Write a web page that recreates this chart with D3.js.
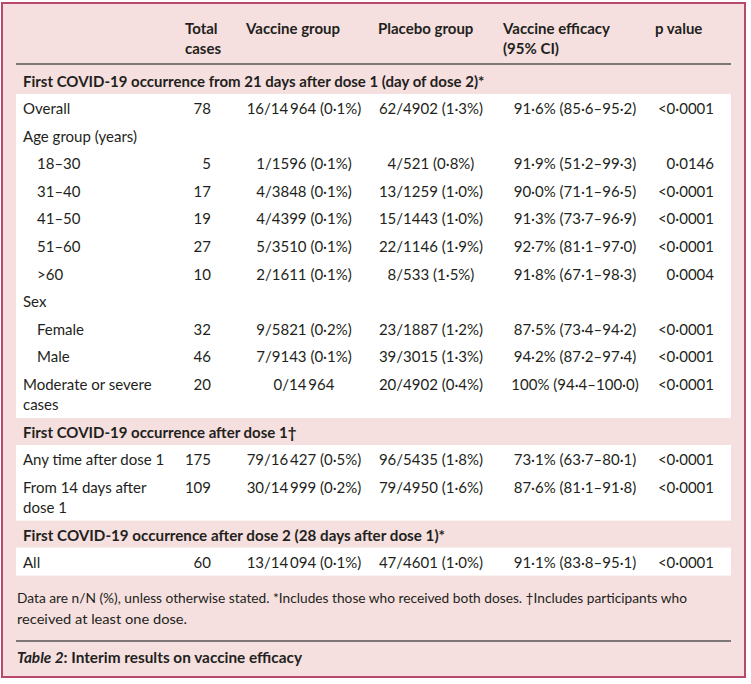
<!DOCTYPE html>
<html>
<head>
<meta charset="utf-8">
<script src="https://cdn.jsdelivr.net/npm/d3@7"></script>
<style>
  body { margin: 0; background: #fff; }
  text { font-family: Lato, "Open Sans", sans-serif; fill: #231f20; }
</style>
</head>
<body>
<svg></svg>
<script>
const width = 751;
const height = 684;

// table content
const columnHeads = [["", ""], ["Total", "cases"], ["Vaccine group", ""], ["Placebo group", ""], ["Vaccine efficacy", "(95% CI)"], ["p value", ""]];
const sectionTitles = [
  "First COVID-19 occurrence from 21 days after dose 1 (day of dose 2)*",
  "First COVID-19 occurrence after dose 1\u2020",
  "First COVID-19 occurrence after dose 2 (28 days after dose 1)*"
];
const rowLabels = ["Overall", "Age group (years)", "18\u201330", "31\u201340", "41\u201350", "51\u201360", ">60", "Sex", "Female", "Male",
  "Moderate or severe\ncases", "Any time after dose 1", "From 14 days after\ndose 1", "All"];
const rowSection = [0, 0, 0, 0, 0, 0, 0, 0, 0, 0, 0, 1, 1, 2];
const rowIndent = [0, 0, 1, 1, 1, 1, 1, 0, 1, 1, 0, 0, 0, 0];
const totalCases = [78, null, 5, 17, 19, 27, 10, null, 32, 46, 20, 175, 109, 60];
const vaccineGroup = ["16/14\u2009964 (0\u00b71%)", "", "1/1596 (0\u00b71%)", "4/3848 (0\u00b71%)", "4/4399 (0\u00b71%)", "5/3510 (0\u00b71%)", "2/1611 (0\u00b71%)", "",
  "9/5821 (0\u00b72%)", "7/9143 (0\u00b71%)", "0/14\u2009964", "79/16\u2009427 (0\u00b75%)", "30/14\u2009999 (0\u00b72%)", "13/14\u2009094 (0\u00b71%)"];
const placeboGroup = ["62/4902 (1\u00b73%)", "", "4/521 (0\u00b78%)", "13/1259 (1\u00b70%)", "15/1443 (1\u00b70%)", "22/1146 (1\u00b79%)", "8/533 (1\u00b75%)", "",
  "23/1887 (1\u00b72%)", "39/3015 (1\u00b73%)", "20/4902 (0\u00b74%)", "96/5435 (1\u00b78%)", "79/4950 (1\u00b76%)", "47/4601 (1\u00b70%)"];
const efficacy = ["91\u00b76% (85\u00b76\u201395\u00b72)", "", "91\u00b79% (51\u00b72\u201399\u00b73)", "90\u00b70% (71\u00b71\u201396\u00b75)", "91\u00b73% (73\u00b77\u201396\u00b79)",
  "92\u00b77% (81\u00b71\u201397\u00b70)", "91\u00b78% (67\u00b71\u201398\u00b73)", "", "87\u00b75% (73\u00b74\u201394\u00b72)", "94\u00b72% (87\u00b72\u201397\u00b74)",
  "100% (94\u00b74\u2013100\u00b70)", "73\u00b71% (63\u00b77\u201380\u00b71)", "87\u00b76% (81\u00b71\u201391\u00b78)", "91\u00b71% (83\u00b78\u201395\u00b71)"];
const pValues = ["<0\u00b70001", "", "0\u00b70146", "<0\u00b70001", "<0\u00b70001", "<0\u00b70001", "0\u00b70004", "", "<0\u00b70001", "<0\u00b70001",
  "<0\u00b70001", "<0\u00b70001", "<0\u00b70001", "<0\u00b70001"];
const footnotes = ["Data are n/N (%), unless otherwise stated. *Includes those who received both doses. \u2020Includes participants who",
  "received at least one dose."];
const captionLead = "Table 2";
const captionRest = ": Interim results on vaccine efficacy";

const pink = "#f5e0df";
const border = "#b8496d";
const fontSize = 15;
const rowStep = 27.6;
const lineStep = 20;

const cols = ["label", "total", "vaccine", "placebo", "efficacy", "p"];
const colX = d3.scaleOrdinal().domain(cols).range([23, 211, 304, 431, 575, 714]);
const colAnchor = d3.scaleOrdinal().domain(cols).range(["start", "end", "middle", "middle", "middle", "end"]);
const headX = d3.scaleOrdinal().domain(cols).range([23, 185, 246, 378, 503, 655]);

const svg = d3.select("svg").attr("width", width).attr("height", height);

svg.append("rect")
  .attr("x", 2).attr("y", 3)
  .attr("width", 743).attr("height", 674)
  .attr("fill", pink)
  .attr("stroke", border)
  .attr("stroke-width", 2);

// header
columnHeads.forEach((h, i) => {
  h.forEach((t, j) => {
    if (!t) return;
    svg.append("text")
      .attr("x", headX(cols[i]))
      .attr("y", 28 + j * lineStep)
      .attr("dy", "0.4em")
      .attr("font-size", fontSize)
      .attr("font-weight", "bold")
      .text(t);
  });
});

svg.append("line")
  .attr("x1", 16).attr("x2", 731)
  .attr("y1", 64).attr("y2", 64)
  .attr("stroke", "#555").attr("stroke-width", 1.5);

// lay out rows section by section
const layout = [];
let cursor = 81;
sectionTitles.forEach((title, s) => {
  const head = { title: title, y: cursor, s: s };
  const blockTop = cursor + 13;
  let y = blockTop + 14;
  const rows = [];
  rowLabels.forEach((lab, i) => {
    if (rowSection[i] !== s) return;
    rows.push({ i: i, y: y });
    y += rowStep + (lab.split("\n").length - 1) * lineStep;
  });
  const last = rows[rows.length - 1];
  const blockBottom = last.y + (rowLabels[last.i].split("\n").length - 1) * lineStep + 14;
  layout.push({ head: head, top: blockTop, bottom: blockBottom, rows: rows });
  cursor = blockBottom + 14;
});

layout.forEach((sec, s) => {
  svg.append("rect")
    .attr("x", 16).attr("y", sec.top)
    .attr("width", 715).attr("height", sec.bottom - sec.top)
    .attr("fill", "#fff");

  const ht = svg.append("text")
    .attr("x", 23)
    .attr("y", sec.head.y)
    .attr("dy", "0.4em")
    .attr("font-size", fontSize)
    .attr("font-weight", "bold")
    .text(sec.head.title);
  if (s === 2) ht.attr("textLength", 422).attr("lengthAdjust", "spacingAndGlyphs");

  sec.rows.forEach(r => {
    const i = r.i;
    const cells = [rowLabels[i], totalCases[i] == null ? "" : String(totalCases[i]), vaccineGroup[i], placeboGroup[i], efficacy[i], pValues[i]];
    cells.forEach((c, k) => {
      if (!c) return;
      c.split("\n").forEach((line, j) => {
        svg.append("text")
          .attr("x", colX(cols[k]) + (k === 0 ? rowIndent[i] * 14 : 0))
          .attr("y", r.y + j * lineStep)
          .attr("dy", "0.4em")
          .attr("font-size", fontSize)
          .attr("text-anchor", colAnchor(cols[k]))
          .text(line);
      });
    });
  });
});

// footnotes and caption
const footLen = [670, 170];
footnotes.forEach((f, j) => {
  svg.append("text")
    .attr("x", 17)
    .attr("y", 597 + j * 21)
    .attr("dy", "0.4em")
    .attr("font-size", 14)
    .attr("textLength", footLen[j])
    .attr("lengthAdjust", "spacingAndGlyphs")
    .text(f);
});

svg.append("line")
  .attr("x1", 16).attr("x2", 731)
  .attr("y1", 641).attr("y2", 641)
  .attr("stroke", "#555").attr("stroke-width", 1.5);

const cap = svg.append("text")
  .attr("x", 17)
  .attr("y", 657)
  .attr("dy", "0.4em")
  .attr("font-size", 15)
  .attr("font-weight", "bold")
  .attr("textLength", 285)
  .attr("lengthAdjust", "spacingAndGlyphs");
cap.append("tspan").attr("font-style", "italic").text(captionLead);
cap.append("tspan").text(captionRest);
</script>
</body>
</html>
